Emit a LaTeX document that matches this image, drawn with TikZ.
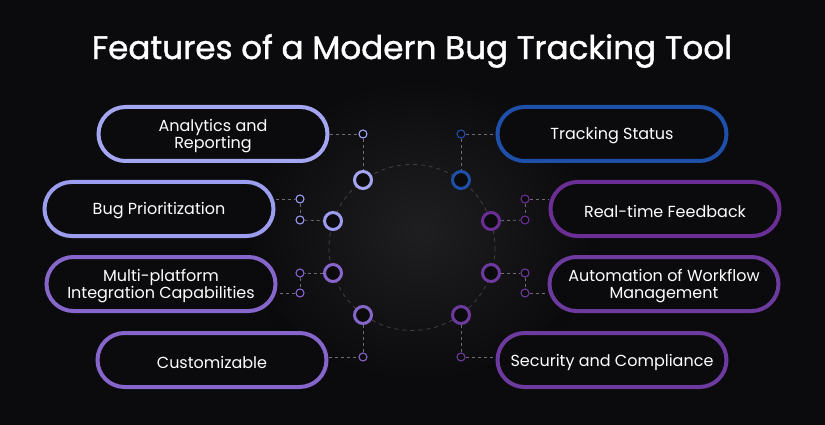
\documentclass[tikz,border=0pt]{standalone}
\usepackage{fontspec}
\setmainfont{Poppins}
\newfontfamily\titlefont{Poppins}[FakeBold=1.2]
\definecolor{bg}{HTML}{0B0A0D}
\definecolor{lav}{HTML}{A4A6F2}
\definecolor{lavb}{HTML}{9C9DEE}
\definecolor{mpur}{HTML}{8766CC}
\definecolor{blu}{HTML}{1E50AA}
\definecolor{dpur}{HTML}{6A2E94}
\definecolor{dpurb}{HTML}{6D3A9F}
\definecolor{dash}{HTML}{6E6C72}
\begin{document}
\begin{tikzpicture}[x=1pt,y=-1pt,
  pill/.style={draw=#1,line width=4pt,fill=bg,rectangle,rounded corners=27pt,
    minimum width=229pt,minimum height=54pt,inner sep=0pt},
  ptext/.style={text=white,align=center,font=\fontsize{16}{17}\selectfont,inner sep=0pt},
  ring/.style={draw=#1,line width=3pt,fill=bg,circle,minimum size=17pt,inner sep=0pt},
  dot/.style={draw=#1,line width=1.1pt,fill=bg,circle,minimum size=8pt,inner sep=0pt},
  conn/.style={draw=dash,line width=0.8pt,dash pattern=on 3pt off 3pt}]
\useasboundingbox (0,0) rectangle (825,425);
\fill[bg] (0,0) rectangle (825,425);
\shade[inner color=black!15!bg!100,outer color=bg] (420,240) ellipse (260 and 200);
\shade[inner color=white!8!bg,outer color=bg] (420,230) ellipse (170 and 150);
\draw[draw=white!22!bg,line width=0.8pt,dash pattern=on 4pt off 4pt] (412,247.5) circle (83);
% title
\node[text=white,font=\titlefont\fontsize{32.6}{35}\selectfont] (title) at (412,51) {Features of a Modern Bug Tracking Tool};
% pills
\node[pill=lav]   (b1) at (213,134) {};
\node[pill=lavb]  (b2) at (159,209) {};
\node[pill=mpur]  (b3) at (161,284) {};
\node[pill=mpur]  (b4) at (212,360) {};
\node[pill=blu]   (b5) at (612,134) {};
\node[pill=dpur]  (b6) at (665,209) {};
\node[pill=dpurb] (b7) at (664,284) {};
\node[pill=dpurb] (b8) at (612,360) {};
\node[ptext] (t1) at ([yshift=-2.5pt]b1.center) {Analytics and\\Reporting};
\node[ptext] (t2) at ([yshift=-2pt]b2.center) {Bug Prioritization};
\node[ptext] (t3) at ([yshift=-2.5pt]b3.center) {Multi-platform\\Integration Capabilities};
\node[ptext] (t4) at ([yshift=-2pt]b4.center) {Customizable};
\node[ptext] (t5) at ([yshift=-2pt]b5.center) {Tracking Status};
\node[ptext] (t6) at ([yshift=-2pt]b6.center) {Real-time Feedback};
\node[ptext] (t7) at ([yshift=-2.5pt]b7.center) {Automation of Workflow\\Management};
\node[ptext] (t8) at ([yshift=-2pt]b8.center) {Security and Compliance};
% big rings
\node[ring=lav]   (r1) at (363,180) {};
\node[ring=lavb]  (r2) at (333,221) {};
\node[ring=mpur]  (r3) at (333,273) {};
\node[ring=mpur]  (r4) at (363,315) {};
\node[ring=blu]   (r5) at (461,180) {};
\node[ring=dpur]  (r6) at (491,221) {};
\node[ring=dpurb] (r7) at (491,273) {};
\node[ring=dpurb] (r8) at (461,315) {};
% small dots
\node[dot=lav]   (s1)  at (363,134) {};
\node[dot=lavb]  (s2a) at (300,199) {};
\node[dot=lavb]  (s2b) at (300,220) {};
\node[dot=mpur]  (s3a) at (300,273) {};
\node[dot=mpur]  (s3b) at (300,293) {};
\node[dot=mpur]  (s4)  at (363,357) {};
\node[dot=blu]   (s5)  at (461,134) {};
\node[dot=dpur]  (s6a) at (525,199) {};
\node[dot=dpur]  (s6b) at (525,220) {};
\node[dot=dpurb] (s7a) at (525,273) {};
\node[dot=dpurb] (s7b) at (525,293) {};
\node[dot=dpurb] (s8)  at (461,357) {};
% connectors
\draw[conn] (b1.east |- s1) -- (s1);
\draw[conn] (s1) -- (r1);
\draw[conn] (s2a -| b2.east) -- (s2a);
\draw[conn] (s2a) -- (s2b);
\draw[conn] (s2b) -- (r2);
\draw[conn] (r3) -- (s3a);
\draw[conn] (s3a) -- (s3b);
\draw[conn] (s3b) -- (s3b -| b3.east);
\draw[conn] (s4 -| b4.east) -- (s4);
\draw[conn] (s4) -- (r4);
\draw[conn] (s5) -- (s5 -| b5.west);
\draw[conn] (s5) -- (r5);
\draw[conn] (s6a) -- (s6a -| b6.west);
\draw[conn] (s6a) -- (s6b);
\draw[conn] (r6) -- (s6b);
\draw[conn] (r7) -- (s7a);
\draw[conn] (s7a) -- (s7b);
\draw[conn] (s7b) -- (s7b -| b7.west);
\draw[conn] (s8) -- (s8 -| b8.west);
\draw[conn] (s8) -- (r8);
\end{tikzpicture}
\end{document}
